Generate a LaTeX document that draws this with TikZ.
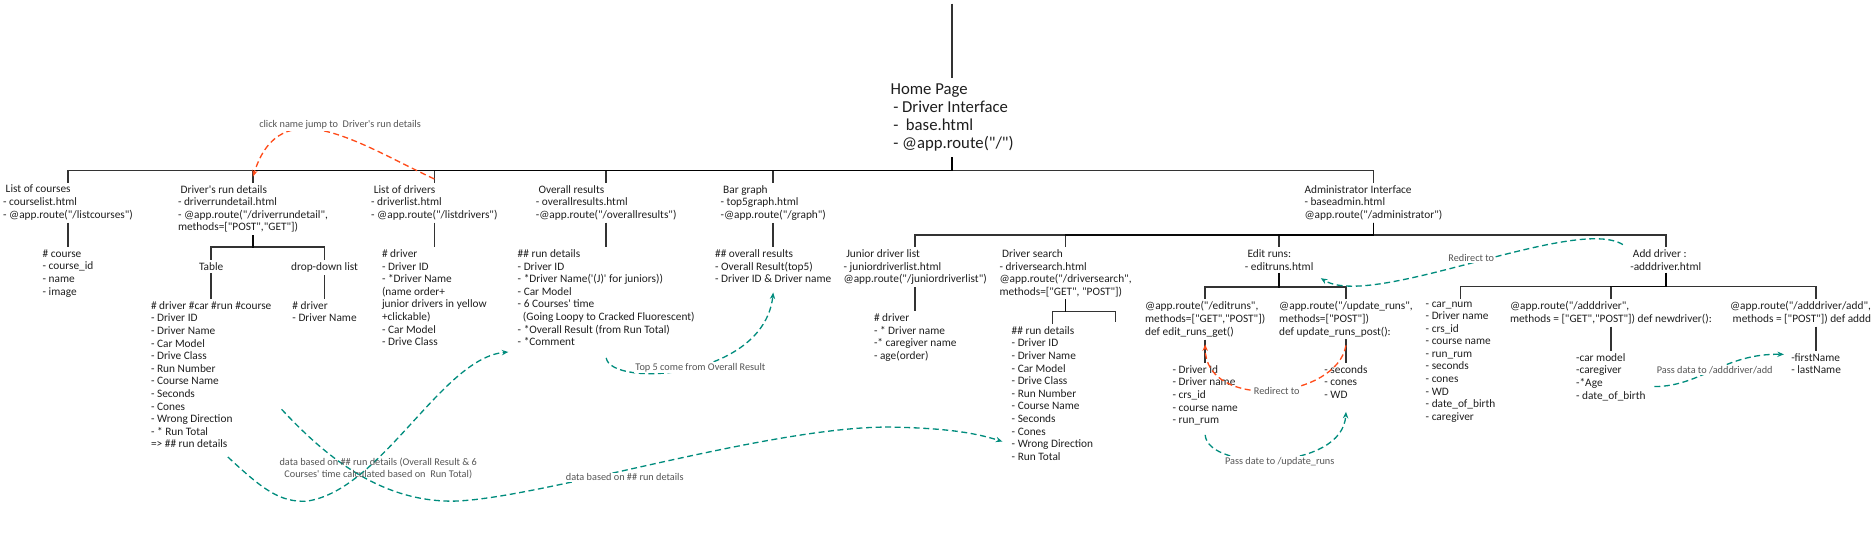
\documentclass[tikz,border=0pt]{standalone}
\usepackage{fontspec}
\setmainfont{Carlito}[Ligatures=TeXOff]
\usetikzlibrary{arrows.meta}
\definecolor{tealline}{RGB}{0,140,125}
\definecolor{redline}{RGB}{255,75,25}
\definecolor{lblgray}{RGB}{85,85,85}
\definecolor{inkgray}{RGB}{30,30,30}
\newcommand{\padsp}{\hspace*{2.2pt}}

\begin{document}
\begin{tikzpicture}[
    x=1pt, y=-1pt,
    textblock/.style={
        anchor=north,
        align=left,
        inner sep=2pt,
        text=inkgray,
        font=\fontsize{9.5}{10.55}\selectfont
    },
    homeblock/.style={textblock, inner sep=5pt, font=\fontsize{14}{15}\selectfont},
    treeline/.style={draw=black, draw opacity=0.8, line width=1.3pt},
    linklabel/.style={font=\fontsize{8.6}{10}\selectfont, text=lblgray, fill=white, inner sep=1pt},
    tealarrow/.style={
        draw=tealline,
        line width=1.1pt,
        dash pattern=on 5pt off 3pt,
        -{Stealth[length=5.5pt,width=4.5pt]}
    },
    redarrow/.style={tealarrow, draw=redline}
]
\useasboundingbox (0,0) rectangle (1568,458);

% ---- bar heights of the tree ----
\coordinate (mainBar) at (0,143);
\coordinate (runBar) at (0,207);
\coordinate (adminBar) at (0,197);
\coordinate (searchBar) at (0,261);
\coordinate (editBar) at (0,240.3);
\coordinate (addBar) at (0,240);

% ---- Root ----
\coordinate (topIn) at (798,3);
\node[homeblock] (home) at (798,65) {Home Page\\\padsp - Driver Interface\\\padsp -\ \ base.html\\\padsp - @app.route("/")};

% ---- Level 1: driver pages ----
\node[textblock] (courses) at (57,153)
    {\padsp List of courses\\- courselist.html\\- @app.route("/listcourses")};
\node[textblock] (rundetail) at (212,153)
    {\padsp Driver's run details\\- driverrundetail.html\\- @app.route("/driverrundetail",\\methods=["POST","GET"])};
\node[textblock] (drivers) at (364,153)
    {\padsp List of drivers\\- driverlist.html\\- @app.route("/listdrivers")};
\node[textblock] (overall) at (508,153)
    {\padsp Overall results\\- overallresults.html\\-@app.route("/overallresults")};
\node[textblock] (bargraph) at (648,153)
    {\padsp Bar graph\\- top5graph.html\\-@app.route("/graph")};
\node[textblock] (admin) at (1151,153)
    {Administrator Interface\\- baseadmin.html\\@app.route("/administrator")};

% ---- Level 2: driver page contents ----
\node[textblock] (coursetab) at (57,207)
    {\# course\\- course\_id\\- name\\- image};
\node[textblock] (tableHd) at (177,218) {Table};
\node[textblock] (dropHd) at (272,218) {drop-down list};
\node[textblock] (tablelist) at (177,250.5)
    {\# driver \#car \#run \#course\\- Driver ID\\- Driver Name\\- Car Model\\- Drive Class\\- Run Number\\- Course Name\\- Seconds\\- Cones\\- Wrong Direction\\- * Run Total\\=> \#\# run details};
\node[textblock] (ddlist) at (272,250.5)
    {\# driver\\- Driver Name};
\node[textblock] (driverlist) at (364,207)
    {\# driver\\- Driver ID\\- *Driver Name\\(name order+\\junior drivers in yellow\\+clickable)\\- Car Model\\- Drive Class};
\node[textblock] (runlist) at (508,207)
    {\#\# run details\\- Driver ID\\- *Driver Name('(J)' for juniors))\\- Car Model\\- 6 Courses' time\\\padsp\padsp(Going Loopy to Cracked Fluorescent)\\- *Overall Result (from Run Total)\\- *Comment};
\node[textblock] (top5list) at (648,207)
    {\#\# overall results\\- Overall Result(top5)\\- Driver ID \& Driver name};

% ---- Level 2: administrator pages ----
\node[textblock] (junior) at (767,207)
    {\padsp Junior driver list\\- juniordriverlist.html\\@app.route("/juniordriverlist")};
\node[textblock] (search) at (893,207)
    {\padsp Driver search\\- driversearch.html\\@app.route("/driversearch",\\methods=["GET", "POST"])};
\node[textblock] (editruns) at (1072,207)
    {\padsp Edit runs:\\- editruns.html};
\node[textblock] (adddriver) at (1396,207)
    {\padsp Add driver :\\-adddriver.html};

% ---- Level 3: administrator page contents ----
\node[textblock] (juniorlist) at (767,260.7)
    {\# driver\\- * Driver name\\-* caregiver name\\- age(order)};
\node[textblock] (searchlist) at (882,271.4)
    {\#\# run details\\- Driver ID\\- Driver Name\\- Car Model\\- Drive Class\\- Run Number\\- Course Name\\- Seconds\\- Cones\\- Wrong Direction\\- Run Total};
\coordinate (searchGap) at (935,270);
\node[textblock] (editget) at (1010,250.5)
    {@app.route("/editruns",\\methods=["GET","POST"])\\def edit\_runs\_get()};
\node[textblock] (updatepost) at (1128,250.5)
    {@app.route("/update\_runs",\\methods=["POST"])\\def update\_runs\_post():};
\node[textblock] (getlist) at (1010,304)
    {- Driver Id\\- Driver name\\- crs\_id\\- course name\\- run\_rum};
\node[textblock] (postlist) at (1128,304)
    {- seconds\\- cones\\- WD};
\node[textblock] (fieldlist) at (1224,250.5)
    {- car\_num\\- Driver name\\- crs\_id\\- course name\\- run\_rum\\- seconds\\- cones\\- WD\\- date\_of\_birth\\- caregiver};
\node[textblock] (newdriver) at (1350,250.5)
    {@app.route("/adddriver",\\methods = ["GET","POST"]) def newdriver():};
\node[textblock] (addroute) at (1522,250.5)
    {@app.route("/adddriver/add",\\\padsp methods = ["POST"]) def adddriver():};
\node[textblock] (carlist) at (1350,294)
    {-car model\\-caregiver\\-*Age\\- date\_of\_birth};
\node[textblock] (namelist) at (1522,294)
    {-firstName\\- lastName};

% ---- tree connectors ----
\draw[treeline] (topIn) -- (home.north);
\draw[treeline] (home.south) |- (mainBar -| courses.north) -- (courses.north);
\draw[treeline] (home.south) |- (mainBar -| rundetail.north) -- (rundetail.north);
\draw[treeline] (home.south) |- (mainBar -| drivers.north) -- (drivers.north);
\draw[treeline] (home.south) |- (mainBar -| overall.north) -- (overall.north);
\draw[treeline] (home.south) |- (mainBar -| bargraph.north) -- (bargraph.north);
\draw[treeline] (home.south) |- (mainBar -| admin.north) -- (admin.north);

\draw[treeline] (courses.south) -- (coursetab.north);
\draw[treeline] (rundetail.south) |- (runBar -| tableHd.north) -- (tableHd.north);
\draw[treeline] (rundetail.south) |- (runBar -| dropHd.north) -- (dropHd.north);
\draw[treeline] (tableHd.south) -- (tablelist.north);
\draw[treeline] (dropHd.south) -- (ddlist.north);
\draw[treeline] (drivers.south) -- (driverlist.north);
\draw[treeline] (overall.south) -- (runlist.north);
\draw[treeline] (bargraph.south) -- (top5list.north);

\draw[treeline] (admin.south) |- (adminBar -| junior.north) -- (junior.north);
\draw[treeline] (admin.south) |- (adminBar -| search.north) -- (search.north);
\draw[treeline] (admin.south) |- (adminBar -| editruns.north) -- (editruns.north);
\draw[treeline] (admin.south) |- (adminBar -| adddriver.north) -- (adddriver.north);

\draw[treeline] (junior.south) -- (juniorlist.north);
\draw[treeline] (search.south) |- (searchBar -| searchlist.north) -- (searchlist.north);
\draw[treeline] (search.south) |- (searchBar -| searchGap) -- (searchGap);
\draw[treeline] (editruns.south) |- (editBar -| editget.north) -- (editget.north);
\draw[treeline] (editruns.south) |- (editBar -| updatepost.north) -- (updatepost.north);
\draw[treeline] (editget.south) -- (getlist.north);
\draw[treeline] (updatepost.south) -- (postlist.north);
\draw[treeline] (adddriver.south) |- (addBar -| fieldlist.north) -- (fieldlist.north);
\draw[treeline] (adddriver.south) |- (addBar -| newdriver.north) -- (newdriver.north);
\draw[treeline] (adddriver.south) |- (addBar -| addroute.north) -- (addroute.north);
\draw[treeline] (newdriver.south) -- (carlist.north);
\draw[treeline] (addroute.south) -- (namelist.north);

% ---- data flow links ----
\coordinate (tableTail) at (191,383);
\coordinate (tableSide) at (236,343);
\coordinate (commentTip) at (426,295);
\coordinate (directionTip) at (840,370);

\draw[redarrow] ([yshift=3pt]drivers.north) .. controls (300,120) and (235,75) .. ([yshift=5pt]rundetail.north);
\node[linklabel] (lblClick) at (285,105) {click name jump to\ \ Driver's run details};

\draw[tealarrow] (tableTail) .. controls (221,411) and (235,421) .. (257,420)
    .. controls (320,411) and (370,300) .. (commentTip);
\draw[tealarrow] (tableSide) .. controls (275,385) and (320,420) .. (379,420)
    .. controls (450,419) and (650,355) .. (751,358)
    .. controls (790,359) and (815,362) .. (directionTip);
\node[linklabel, fill=none, align=center] (lblData) at (317,392.5)
    {data based on \#\# run details (Overall Result \& 6\\Courses' time calculated based on\ \ Run Total)};
\node[linklabel] (lblRun) at (523.6,400) {data based on \#\# run details};

\draw[tealarrow] ([yshift=-8pt]runlist.south) .. controls (512,325) and (640,318) .. ([yshift=-6pt]top5list.south);
\node[linklabel] (lblTop) at (587,308) {Top 5 come from Overall Result};

\draw[redarrow] ([yshift=-5pt]updatepost.south) .. controls (1120,335) and (1010,345) .. ([yshift=-4pt]editget.south);
\node[linklabel] (lblRedirEdit) at (1070,327.5) {Redirect to};

\draw[tealarrow] ([yshift=-6pt]getlist.south) .. controls (1012,395) and (1125,395) .. ([yshift=-9pt]postlist.south);
\node[linklabel] (lblPass) at (1072.5,387) {Pass date to /update\_runs};

\draw[tealarrow] ([xshift=-4pt,yshift=2pt]adddriver.north west) .. controls (1320,180) and (1150,260) .. ([xshift=4pt,yshift=-4.5pt]editruns.south east);
\node[linklabel] (lblRedirAdd) at (1233,216.5) {Redirect to};

\draw[tealarrow] ([xshift=5pt,yshift=-8pt]carlist.east) .. controls (1425,324) and (1445,296) .. ([xshift=-4pt,yshift=-3pt]namelist.north west);
\node[linklabel] (lblPassAdd) at (1437,310) {Pass data to /adddriver/add};

\end{tikzpicture}
\end{document}
